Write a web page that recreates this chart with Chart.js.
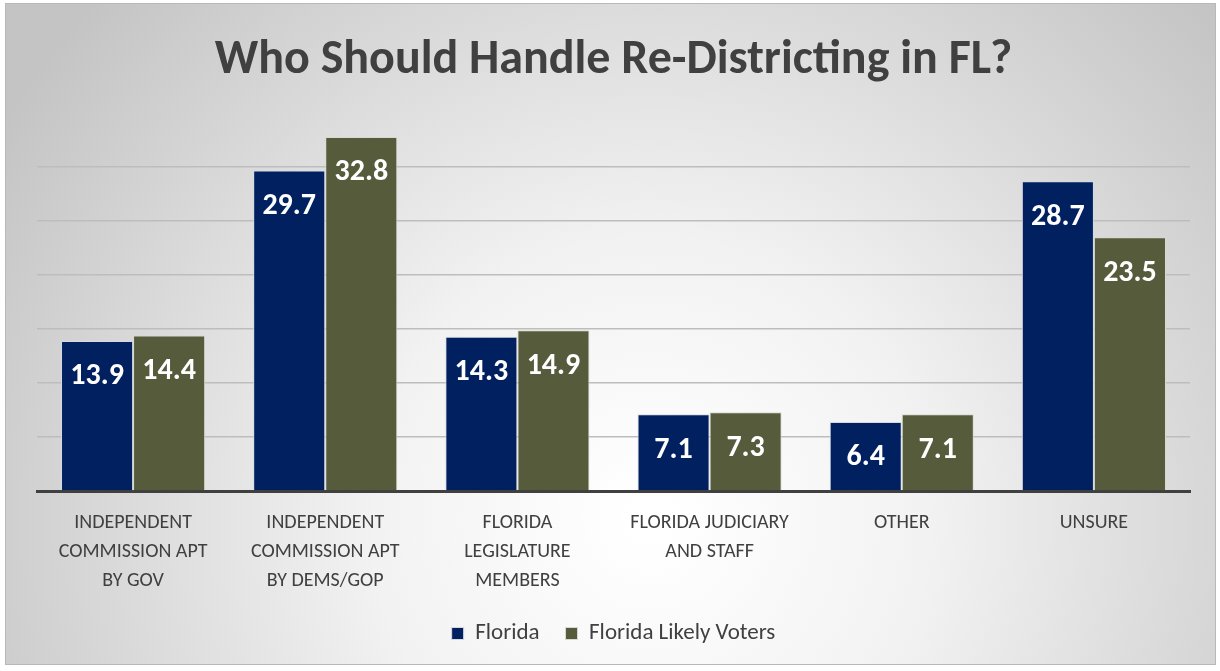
<!DOCTYPE html>
<html lang="en">
<head>
  <meta charset="UTF-8" />
  <title>Who Should Handle Re-Districting in FL?</title>
  <script src="https://cdn.jsdelivr.net/npm/chart.js@4.4.0/dist/chart.umd.min.js"></script>
  <style>
    html, body {
      margin: 0;
      padding: 0;
      background: #ffffff;
    }

    .chart-box {
      width: 1220px;
      height: 671px;
    }
  </style>
</head>
<body>

  <div class="chart-box">
    <canvas id="redistrictChart"></canvas>
  </div>

  <script>
    // Survey answers, one group of bars per answer
    const categories = [
      ['INDEPENDENT', 'COMMISSION APT', 'BY GOV'],
      ['INDEPENDENT', 'COMMISSION APT', 'BY DEMS/GOP'],
      ['FLORIDA', 'LEGISLATURE', 'MEMBERS'],
      ['FLORIDA JUDICIARY', 'AND STAFF'],
      ['OTHER'],
      ['UNSURE']
    ];
    const seriesNames = ['Florida', 'Florida Likely Voters'];
    const floridaValues = [13.9, 29.7, 14.3, 7.1, 6.4, 28.7];
    const likelyVoterValues = [14.4, 32.8, 14.9, 7.3, 7.1, 23.5];
    const yTicks = [0, 5, 10, 15, 20, 25, 30, 35];

    const FONT = 'Carlito, Lato, "Open Sans", sans-serif';
    const TEXT_GREY = '#404040';

    // grey frame with a soft radial shading behind everything
    const backdrop = {
      id: 'backdrop',
      beforeDraw(chart) {
        const { ctx, width, height } = chart;
        ctx.save();
        ctx.fillStyle = '#ffffff';
        ctx.fillRect(0, 0, width, height);
        const grad = ctx.createRadialGradient(650, 520, 20, 650, 520, 760);
        grad.addColorStop(0, '#ffffff');
        grad.addColorStop(0.35, '#f2f2f2');
        grad.addColorStop(1, '#c4c4c4');
        ctx.fillStyle = grad;
        ctx.fillRect(5, 3, 1211, 662);
        ctx.strokeStyle = '#b8b8b8';
        ctx.lineWidth = 1;
        ctx.strokeRect(5.5, 3.5, 1210, 661);
        ctx.restore();
      }
    };

    // white value labels just inside the top of each bar
    const barValues = {
      id: 'barValues',
      afterDatasetsDraw(chart) {
        const { ctx } = chart;
        ctx.save();
        ctx.fillStyle = '#ffffff';
        ctx.font = 'bold 30px ' + FONT;
        ctx.textAlign = 'center';
        ctx.textBaseline = 'middle';
        chart.data.datasets.forEach((ds, i) => {
          chart.getDatasetMeta(i).data.forEach((bar, j) => {
            ctx.fillText(ds.data[j].toFixed(1), bar.x, bar.y + 36);
          });
        });
        ctx.restore();
      }
    };

    const ctx = document.getElementById('redistrictChart').getContext('2d');

    new Chart(ctx, {
      type: 'bar',
      data: {
        labels: categories,
        datasets: [
          {
            label: seriesNames[0],
            data: floridaValues,
            backgroundColor: '#002060',
            borderColor: '#d6d9e0',
            borderWidth: 1,
            categoryPercentage: 0.75,
            barPercentage: 1.0
          },
          {
            label: seriesNames[1],
            data: likelyVoterValues,
            backgroundColor: '#565b3b',
            borderColor: '#d8d9d0',
            borderWidth: 1,
            categoryPercentage: 0.75,
            barPercentage: 1.0
          }
        ]
      },
      options: {
        responsive: true,
        maintainAspectRatio: false,
        animation: false,
        layout: {
          padding: { top: 5, left: 37, right: 30, bottom: 16 }
        },
        scales: {
          x: {
            grid: { display: false, drawTicks: false },
            border: { display: true, color: '#404040', width: 3 },
            ticks: {
              color: TEXT_GREY,
              font: { family: FONT, size: 20, lineHeight: 1.45 },
              padding: 17,
              maxRotation: 0,
              autoSkip: false
            },
            afterFit(scale) {
              // fixed band for the category names
              scale.height = 105;
            }
          },
          y: {
            min: 0,
            max: 35,
            afterBuildTicks(scale) {
              scale.ticks = yTicks.map(v => ({ value: v }));
            },
            grid: {
              drawTicks: false,
              lineWidth: 1.5,
              color: c => (c.tick.value === 0 || c.tick.value === 35) ? 'rgba(0,0,0,0)' : '#bdbdbd'
            },
            border: { display: false },
            ticks: { display: false }
          }
        },
        plugins: {
          title: {
            display: true,
            text: 'Who Should Handle Re-Districting in FL?',
            color: TEXT_GREY,
            font: { family: FONT, size: 48, weight: 'bold', lineHeight: 1.2 },
            padding: { top: 27, bottom: 23.6 }
          },
          legend: {
            position: 'bottom',
            labels: {
              color: TEXT_GREY,
              font: { family: FONT, size: 23 },
              boxWidth: 12,
              boxHeight: 12,
              padding: 26
            }
          },
          tooltip: { enabled: false }
        }
      },
      plugins: [backdrop, barValues]
    });
  </script>

</body>
</html>
